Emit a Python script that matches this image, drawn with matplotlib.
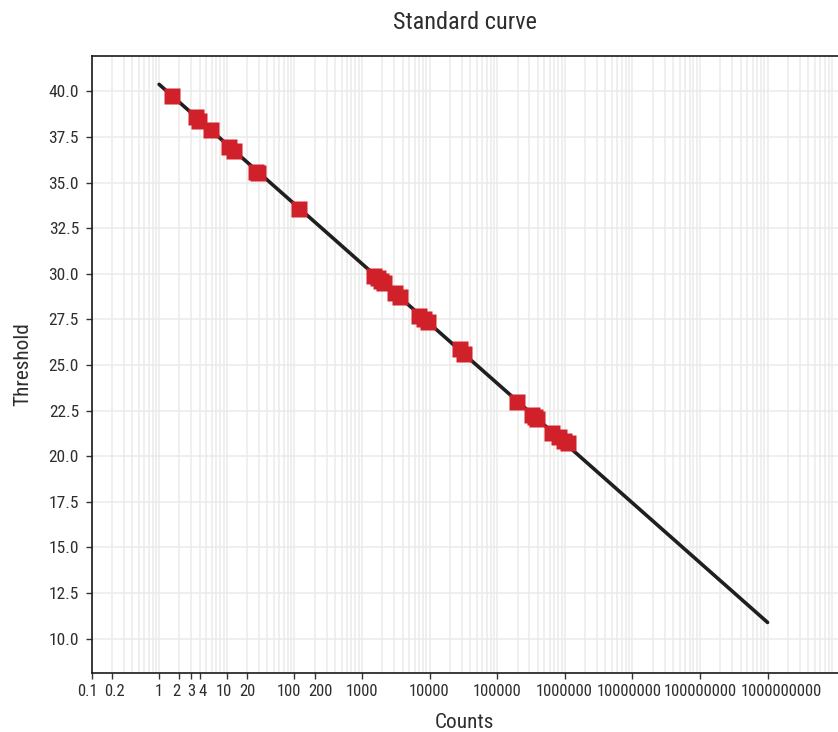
import numpy as np
import matplotlib
matplotlib.use("Agg")
import matplotlib.pyplot as plt
from matplotlib.ticker import FixedLocator, LogLocator, NullFormatter
from matplotlib.transforms import ScaledTranslation

plt.rcParams['font.family'] = ['Roboto Condensed', 'Liberation Sans Narrow', 'Roboto', 'DejaVu Sans']

# standard samples (counts, threshold)
counts = [1.56, 3.55, 3.9, 5.9, 10.8, 12.8, 27, 29, 117,
          1500, 1700, 1900, 2150, 3050, 3650, 6950, 8200, 9400,
          27800, 32000, 195000, 325000, 360000, 395000,
          650000, 820000, 965000, 1120000]
threshold = [39.73, 38.59, 38.37, 37.87, 36.92, 36.70, 35.60, 35.52, 33.56,
             29.85, 29.75, 29.60, 29.47, 28.96, 28.70, 27.70, 27.52, 27.36,
             25.88, 25.59, 22.98, 22.27, 22.17, 22.03,
             21.26, 21.05, 20.86, 20.72]

# fitted standard curve
fit_counts = [1, 1e9]
fit_threshold = [40.38, 10.89]

xtick_vals = [0.1, 0.2, 1, 2, 3, 4, 10, 20, 100, 200, 1000, 10000, 100000,
              1000000, 10000000, 100000000, 1000000000]
xtick_labels = ['0.1', '0.2', '1', '2', '3', '4', '10', '20', '100', '200', '1000',
                '10000', '100000', '1000000', '10000000', '100000000', '1000000000']
ytick_vals = [10.0, 12.5, 15.0, 17.5, 20.0, 22.5, 25.0, 27.5, 30.0, 32.5, 35.0, 37.5, 40.0]

# horizontal nudges (px) so crowded x labels don't collide, like the original
xlabel_shift_px = [-4, 3, 0, -3, 0, 3, -3, 0, -5, 6, 0, 0, 0, -1, -3, 0, 14]

fig = plt.figure(figsize=(8.38, 7.32), dpi=100)
ax = fig.add_axes([91.5 / 838, 59 / 732, 1 - 91.5 / 838, (673 - 55.7) / 732])

ax.plot(fit_counts, fit_threshold, color='#1f1f1f', lw=2.6, solid_capstyle='round', zorder=3)
ax.plot(counts, threshold, 's', color='#d0202a', ms=11, mec='none', zorder=4)

ax.set_xscale('log')
ax.set_xlim(0.1, 1.1e10)
ax.set_ylim(8.12, 41.95)

ax.xaxis.set_major_locator(FixedLocator(xtick_vals))
ax.set_xticklabels(xtick_labels)
ax.xaxis.set_minor_locator(LogLocator(base=10, subs=np.arange(2, 10), numticks=30))
ax.xaxis.set_minor_formatter(NullFormatter())
ax.set_yticks(ytick_vals)
ax.set_yticklabels(['%.1f' % v for v in ytick_vals])

ax.grid(True, which='major', color='#ebebeb', lw=1.1, zorder=0)
ax.grid(True, which='minor', axis='x', color='#ebebeb', lw=1.1, zorder=0)
ax.set_axisbelow(True)

ax.tick_params(axis='both', which='major', length=4, width=1, color='#333333',
               labelcolor='#2e2e2e')
ax.tick_params(axis='x', which='major', pad=4, labelsize=12)
ax.tick_params(axis='y', which='major', pad=5, labelsize=12.5)
ax.tick_params(axis='x', which='minor', length=0)

for tick, dx in zip(ax.xaxis.get_major_ticks(), xlabel_shift_px):
    tick.label1.set_transform(tick.label1.get_transform() +
                              ScaledTranslation(dx / 100, 0, fig.dpi_scale_trans))

for s in ['left', 'bottom', 'top']:
    ax.spines[s].set_color('#1a1a1a')
    ax.spines[s].set_linewidth(1.2)
ax.spines['right'].set_visible(False)

ax.set_xlabel('Counts', fontsize=15.3, color='#2e2e2e', labelpad=10)
ax.set_ylabel('Threshold', fontsize=15.3, color='#2e2e2e', labelpad=12)
ax.set_title('Standard curve', fontsize=17.5, color='#2e2e2e', pad=19)

fig.savefig('out.png', dpi=100)
